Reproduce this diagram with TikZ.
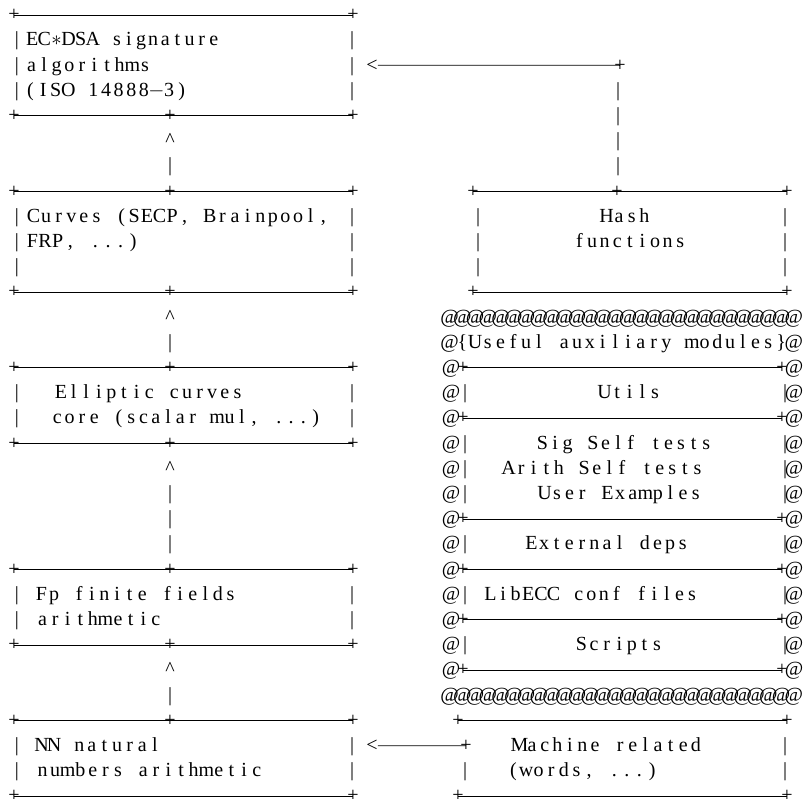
\documentclass[tikz,border=0pt]{standalone}
\usepackage{fontspec}
\setmainfont{Liberation Serif}

% Typeset a string one character per fixed-width cell (listings-like columns)
\ExplSyntaxOn
\dim_new:N \l_cells_cw_dim
\cs_new_protected:Npn \cells_one:n #1
  {
    \str_case:nnF {#1}
      {
        {*} { \makebox[\l_cells_cw_dim]{$\ast$} }
        {-} { \makebox[\l_cells_cw_dim]{$-$} }
      }
      { \makebox[\l_cells_cw_dim]{#1} }
  }
\NewDocumentCommand \cells { O{12.6pt} m }
  {
    \dim_set:Nn \l_cells_cw_dim {#1}
    \str_map_function:nN {#2} \cells_one:n
  }
\ExplSyntaxOff

\tikzset{
  tx/.style={inner sep=0pt, anchor=base west},
  gl/.style={inner sep=0pt, anchor=base},
  conn/.style={line width=0.8pt, line cap=butt},
}

\begin{document}
\begin{tikzpicture}[x=1pt, y=-25.2pt, font=\fontsize{20}{23}\selectfont]
\useasboundingbox (0pt,0pt) rectangle (806pt,-800pt);
\begin{scope}[yshift=4.6pt]

% ---------- left column: boxes ----------
% EC*DSA box
\node[gl] (sigTL) at (14,1) {+};
\node[gl] (sigTR) at (353,1) {+};
\node[gl] (sigBL) at (14,5) {+};
\node[gl] (sigBM) at (170,5) {+};
\node[gl] (sigBR) at (353,5) {+};
\draw[conn] (sigTL.center) -- (sigTR.center);
\draw[conn] (sigBL.center) -- (sigBR.center);
\foreach \r in {2,3,4} {
  \node[gl] (sigl\r) at (17,\r) {|};
  \node[gl] (sigr\r) at (352,\r) {|};
}
\node[tx] (sigt1) at (26,2) {\cells[12.1pt]{EC*DSA signature}};
\node[tx] (sigt2) at (25,3) {\cells{algorithms}};
\node[tx] (sigt3) at (24,4) {\cells{(ISO 14888-3)}};

% Curves box
\node[gl] (crvTL) at (14,8) {+};
\node[gl] (crvTM) at (170,8) {+};
\node[gl] (crvTR) at (353,8) {+};
\node[gl] (crvBL) at (14,12) {+};
\node[gl] (crvBM) at (170,12) {+};
\node[gl] (crvBR) at (353,12) {+};
\draw[conn] (crvTL.center) -- (crvTR.center);
\draw[conn] (crvBL.center) -- (crvBR.center);
\foreach \r in {9,10,11} {
  \node[gl] (crvl\r) at (17,\r) {|};
  \node[gl] (crvr\r) at (352,\r) {|};
}
\node[tx] (crvt1) at (27,9) {\cells{Curves (SECP, Brainpool,}};
\node[tx] (crvt2) at (26,10) {\cells{FRP, ...)}};

% Elliptic curves core box
\node[gl] (ecTL) at (14,15) {+};
\node[gl] (ecTM) at (170,15) {+};
\node[gl] (ecTR) at (353,15) {+};
\node[gl] (ecBL) at (14,18) {+};
\node[gl] (ecBM) at (170,18) {+};
\node[gl] (ecBR) at (353,18) {+};
\draw[conn] (ecTL.center) -- (ecTR.center);
\draw[conn] (ecBL.center) -- (ecBR.center);
\foreach \r in {16,17} {
  \node[gl] (ecl\r) at (17,\r) {|};
  \node[gl] (ecr\r) at (352,\r) {|};
}
\node[tx] (ect1) at (54.5,16) {\cells{Elliptic curves}};
\node[tx] (ect2) at (51,17) {\cells[12.3pt]{core (scalar mul, ...)}};

% Fp box
\node[gl] (fpTL) at (14,23) {+};
\node[gl] (fpTM) at (170,23) {+};
\node[gl] (fpTR) at (353,23) {+};
\node[gl] (fpBL) at (14,26) {+};
\node[gl] (fpBM) at (170,26) {+};
\node[gl] (fpBR) at (353,26) {+};
\draw[conn] (fpTL.center) -- (fpTR.center);
\draw[conn] (fpBL.center) -- (fpBR.center);
\foreach \r in {24,25} {
  \node[gl] (fpl\r) at (17,\r) {|};
  \node[gl] (fpr\r) at (352,\r) {|};
}
\node[tx] (fpt1) at (35,24) {\cells{Fp finite fields}};
\node[tx] (fpt2) at (36,25) {\cells{arithmetic}};

% NN box
\node[gl] (nnTL) at (14,29) {+};
\node[gl] (nnTM) at (170,29) {+};
\node[gl] (nnTR) at (353,29) {+};
\node[gl] (nnBL) at (14,32) {+};
\node[gl] (nnBR) at (353,32) {+};
\draw[conn] (nnTL.center) -- (nnTR.center);
\draw[conn] (nnBL.center) -- (nnBR.center);
\foreach \r in {30,31} {
  \node[gl] (nnl\r) at (17,\r) {|};
  \node[gl] (nnr\r) at (352,\r) {|};
}
\node[tx] (nnt1) at (35,30) {\cells{NN natural}};
\node[tx] (nnt2) at (36,31) {\cells{numbers arithmetic}};

% upward arrows between the left boxes
\node[gl] (up1) at (170,6) {\^{}};
\node[gl] (up1b) at (170,7) {|};
\node[gl] (up2) at (170,13) {\^{}};
\node[gl] (up2b) at (170,14) {|};
\node[gl] (up3) at (170,19) {\^{}};
\foreach \r in {20,21,22} { \node[gl] (up3b\r) at (170,\r) {|}; }
\node[gl] (up4) at (170,27) {\^{}};
\node[gl] (up4b) at (170,28) {|};

% ---------- right column ----------
% Hash box
\node[gl] (hTL) at (473,8) {+};
\node[gl] (hTM) at (617,8) {+};
\node[gl] (hTR) at (787,8) {+};
\node[gl] (hBL) at (473,12) {+};
\node[gl] (hBR) at (787,12) {+};
\draw[conn] (hTL.center) -- (hTR.center);
\draw[conn] (hBL.center) -- (hBR.center);
\foreach \r in {9,10,11} {
  \node[gl] (hl\r) at (478,\r) {|};
  \node[gl] (hr\r) at (785,\r) {|};
}
\node[tx] (ht1) at (600,9) {\cells{Hash}};
\node[tx] (ht2) at (573,10) {\cells{functions}};

% hash functions feed the signature algorithms
\node[gl] (lt1) at (372,3) {<};
\node[gl] (hk1) at (620,3) {+};
\draw[conn] (lt1.east) -- (hk1.center);
\foreach \r in {4,5,6,7} { \node[gl] (hv\r) at (618,\r) {|}; }

% auxiliary modules frame
\node[tx] (atTop) at (443,13) {\cells[12.75pt]{@@@@@@@@@@@@@@@@@@@@@@@@@@@@}};
\node[tx] (atHead) at (443,14) {\cells[12.75pt]{@{Useful auxiliary modules}@}};
\node[tx] (atBot) at (443,28) {\cells[12.75pt]{@@@@@@@@@@@@@@@@@@@@@@@@@@@@}};
\foreach \r in {15,17,21,23,25,27} {
  \node[gl] (axL\r) at (451,\r) {@};
  \node[gl] (axPL\r) at (463,\r) {+};
  \node[gl] (axPR\r) at (782,\r) {+};
  \node[gl] (axR\r) at (794,\r) {@};
  \draw[conn] (axPL\r.center) -- (axPR\r.center);
}
\foreach \r in {16,18,19,20,22,24,26} {
  \node[gl] (ayL\r) at (451,\r) {@};
  \node[gl] (ayBL\r) at (465,\r) {|};
  \node[gl] (ayBR\r) at (785,\r) {|};
  \node[gl] (ayR\r) at (794,\r) {@};
}
\node[tx] (m1) at (598,16) {\cells{Utils}};
\node[tx] (m2) at (536,18) {\cells{Sig Self tests}};
\node[tx] (m3) at (502,19) {\cells{Arith Self tests}};
\node[tx] (m4) at (538,20) {\cells{User Examples}};
\node[tx] (m5) at (525,22) {\cells{External deps}};
\node[tx] (m6) at (484,24) {\cells{LibECC conf files}};
\node[tx] (m7) at (575,26) {\cells{Scripts}};

% Machine related box
\node[gl] (mTL) at (458,29) {+};
\node[gl] (mTR) at (787,29) {+};
\node[gl] (mBL) at (458,32) {+};
\node[gl] (mBR) at (787,32) {+};
\draw[conn] (mTL.center) -- (mTR.center);
\draw[conn] (mBL.center) -- (mBR.center);
\node[gl] (lt2) at (372,30) {<};
\node[gl] (mk) at (466,30) {+};
\draw[conn] (lt2.east) -- (mk.center);
\node[gl] (mr30) at (785,30) {|};
\node[gl] (ml31) at (465,31) {|};
\node[gl] (mr31) at (785,31) {|};
\node[tx] (mt1) at (513,30) {\cells{Machine related}};
\node[tx] (mt2) at (507,31) {\cells{(words, ...)}};

\end{scope}
\end{tikzpicture}
\end{document}
